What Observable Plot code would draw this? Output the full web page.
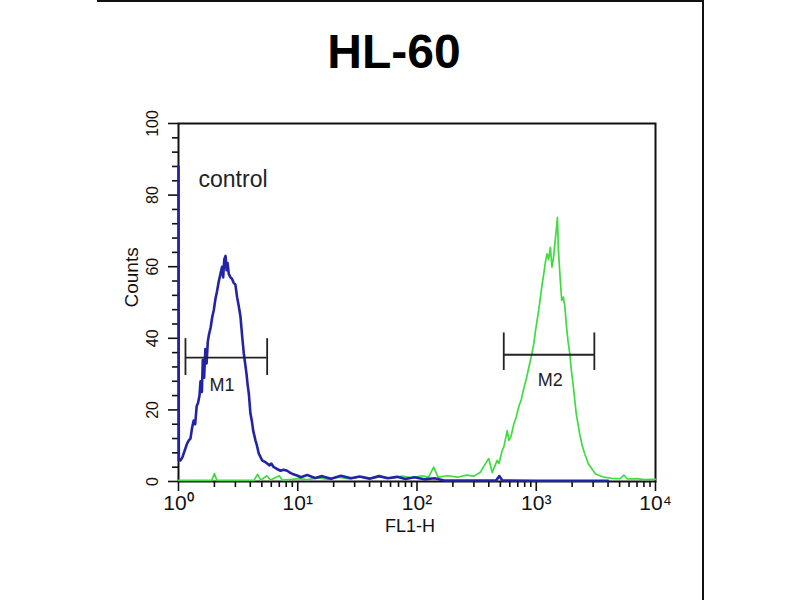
<!DOCTYPE html>
<html><head><meta charset="utf-8">
<script src="https://cdn.jsdelivr.net/npm/d3@7"></script>
<script src="https://cdn.jsdelivr.net/npm/@observablehq/plot@0.6"></script>
<style>
body{margin:0;background:#fff;}
#wrap{position:relative;width:800px;height:600px;}
#border{position:absolute;left:97px;top:0;width:607px;height:600px;border-top:2px solid #111;border-right:2px solid #111;box-sizing:border-box;pointer-events:none;}
</style></head><body><div id="wrap"><div id="border"></div></div>
<script>
// ---- data ----
const title = "HL-60";
const xLabel = "FL1-H";
const yLabel = "Counts";
const sampleLabel = "control";

const xMajorTicks = [1, 10, 100, 1000, 10000];
const yMajorTicks = [0, 20, 40, 60, 80, 100];

// blue (control) histogram: FL1-H channel value, counts
const blueFL1 = [1, 1.006, 1.04, 1.08, 1.11, 1.15, 1.18, 1.22, 1.26, 1.3, 1.34, 1.38, 1.42, 1.46, 1.5, 1.53, 1.57, 1.6, 1.64, 1.68, 1.72, 1.76, 1.8, 1.86, 1.92, 1.98, 2.04, 2.1, 2.18, 2.25, 2.32, 2.37, 2.42, 2.48, 2.53, 2.58, 2.64, 2.73, 2.82, 2.9, 3.0, 3.1, 3.2, 3.31, 3.42, 3.53, 3.62, 3.72, 3.8, 3.89, 4.01, 4.12, 4.23, 4.42, 4.55, 4.71, 4.85, 5.03, 5.3, 5.54, 5.8, 6.0, 6.3, 6.7, 7.17, 7.6, 8.15, 8.6, 9.2, 10, 10.6, 12, 14, 16, 19, 23, 28, 33, 40, 48, 57, 68, 80, 95, 115, 140, 170, 300, 460, 490, 520, 1000, 4000];
const blueCounts = [88, 6, 5.9, 6.8, 8, 9.5, 10.6, 11.5, 12, 15, 17, 16, 21, 22, 24, 28, 25, 34, 29, 37, 33, 39, 41, 43, 46, 48, 51, 53, 56, 58, 60, 57, 62, 63, 59, 61, 58, 57, 56.5, 55.5, 55, 51.5, 49, 46, 40.5, 35.7, 33, 30, 27, 24.5, 19, 17, 14.2, 11.5, 10, 7.8, 7, 5.9, 5.5, 5, 4.5, 5, 4, 3.5, 3, 3.3, 3, 2.5, 2, 1.6, 1.2, 1.8, 1, 1.5, 0.8, 1.6, 0.9, 1.4, 0.8, 1.5, 0.9, 1.3, 0.7, 1.2, 0.6, 0.9, 0.3, 0.3, 0.3, 1.5, 0.3, 0.2, 0.2];

// green (antibody) histogram
const greenFL1 = [1, 1.9, 2.0, 2.1, 4.3, 4.6, 4.9, 5.5, 5.9, 7, 7.4, 9, 10, 12, 15, 18, 22, 27, 33, 40, 50, 60, 75, 90, 110, 125, 138, 150, 180, 220, 260, 300, 340, 375, 400, 427, 446, 470, 487, 518, 534, 571, 590, 612, 649, 680, 712, 750, 790, 830, 867, 910, 954, 985, 1016, 1050, 1084, 1120, 1156, 1190, 1232, 1270, 1313, 1355, 1398, 1441, 1470, 1505, 1534, 1585, 1635, 1687, 1740, 1795, 1850, 1911, 1970, 2037, 2100, 2165, 2313, 2430, 2551, 2738, 3139, 3700, 4300, 5070, 5426, 5800, 7040, 8000, 9150, 10000];
const greenCounts = [0.3, 0.3, 2.2, 0.3, 0.3, 2, 0.4, 1.6, 0.4, 1.6, 0.4, 0.6, 0.8, 0.5, 1, 0.6, 1.2, 0.7, 1.3, 0.8, 1.4, 0.9, 1.5, 1, 1.6, 1.2, 4, 1.2, 1.6, 1.2, 1.8, 1.5, 2.6, 5, 6.4, 2.5, 4, 5.9, 5, 8.7, 9.6, 14.2, 11.5, 12.4, 16.1, 18, 20.8, 23, 26.3, 29, 31.9, 35, 38.5, 42, 45, 48, 51.5, 55, 58, 61, 63.6, 62, 65.4, 59.9, 62.7, 67.3, 70, 73.8, 64.5, 57, 50.6, 51.5, 48.7, 43.1, 39, 35.7, 31, 27.3, 23, 18.9, 13.3, 10, 7.7, 4.9, 2.1, 1.2, 0.9, 0.8, 1.8, 0.7, 0.8, 0.5, 0.6, 0.6];

// gate markers
const markerNames = ["M1", "M2"];
const markerStart = [1.144, 534];
const markerEnd = [5.54, 3070];
const markerLevel = [34.6, 35.4];
const markerCapLow = [29.6, 31];
const markerCapHigh = [39.9, 41.5];
const markerLabelX = [2.32, 1313];
const markerLabelY = [26.8, 28.2];

// ---- build tables ----
const blue = blueFL1.map((x, i) => ({x, y: blueCounts[i]}));
const green = greenFL1.map((x, i) => ({x, y: greenCounts[i]}));
const markers = markerNames.map((name, i) => ({
  name, x1: markerStart[i], x2: markerEnd[i], y: markerLevel[i],
  y1: markerCapLow[i], y2: markerCapHigh[i], lx: markerLabelX[i], ly: markerLabelY[i]
}));
const caps = markers.flatMap(m => [{x: m.x1, y1: m.y1, y2: m.y2}, {x: m.x2, y1: m.y1, y2: m.y2}]);

const xMinorTicks = [];
for (let d = 1; d < 10000; d *= 10) for (let k = 2; k <= 9; k++) xMinorTicks.push(d * k);
const yMinorTicks = d3.range(0, 101, 4).filter(v => v % 20 !== 0);

const supDigits = {"0": "\u2070", "1": "\u00b9", "2": "\u00b2", "3": "\u00b3", "4": "\u2074"};
const supFormat = v => "10" + String(Math.round(Math.log10(v))).split("").map(c => supDigits[c]).join("");

const font = "'Liberation Sans', Arial, Helvetica, sans-serif";

const chart = Plot.plot({
  width: 800, height: 600,
  marginLeft: 178, marginRight: 145, marginTop: 123, marginBottom: 119,
  style: {fontFamily: font, background: "white", color: "#111"},
  x: {type: "log", domain: [1, 10000]},
  y: {domain: [0, 100]},
  marks: [
    Plot.frame({stroke: "#111", strokeWidth: 2}),
    Plot.axisY({ticks: yMajorTicks, tickSize: 10, tickFormat: () => "", strokeWidth: 1.6, label: null}),
    Plot.axisY({ticks: yMinorTicks, tickSize: 6, tickFormat: () => "", strokeWidth: 1.6, label: null}),
    Plot.axisX({ticks: xMajorTicks, tickSize: 10, tickFormat: () => "", strokeWidth: 1.6, label: null}),
    Plot.axisX({ticks: xMinorTicks, tickSize: 6, tickFormat: () => "", strokeWidth: 1.6, label: null}),
    Plot.text(yMajorTicks, {x: () => 1, y: d => d, text: d => String(d), rotate: -90, dx: -26, fontSize: 16, fill: "#111"}),
    Plot.text(xMajorTicks, {x: d => d, frameAnchor: "bottom", dy: 28, text: supFormat, fontSize: 21, fill: "#111"}),
    Plot.line(green, {x: "x", y: "y", stroke: "#3fdc3f", strokeWidth: 1.7}),
    Plot.line(blue, {x: "x", y: "y", stroke: "#2323a8", strokeWidth: 2.6}),
    Plot.ruleY(markers, {x1: "x1", x2: "x2", y: "y", stroke: "#222", strokeWidth: 1.8}),
    Plot.ruleX(caps, {x: "x", y1: "y1", y2: "y2", stroke: "#222", strokeWidth: 1.8}),
    Plot.text(markers, {x: "lx", y: "ly", text: "name", fontSize: 18, fill: "#222"}),
    Plot.text([sampleLabel], {frameAnchor: "top-left", dx: 20, dy: 47, text: d => d, textAnchor: "start", fontSize: 23, fill: "#222"}),
    Plot.text([title], {frameAnchor: "top", dx: -23, dy: -90, text: d => d, fontSize: 48, fontWeight: "bold", fill: "#000"}),
    Plot.text([xLabel], {frameAnchor: "bottom", dx: -7, dy: 50, text: d => d, fontSize: 18, fill: "#111"}),
    Plot.text([yLabel], {frameAnchor: "left", dx: -47, dy: 5, rotate: -90, text: d => d, fontSize: 19, fill: "#111"})
  ]
});
document.getElementById("wrap").prepend(chart);
</script>
</body></html>
